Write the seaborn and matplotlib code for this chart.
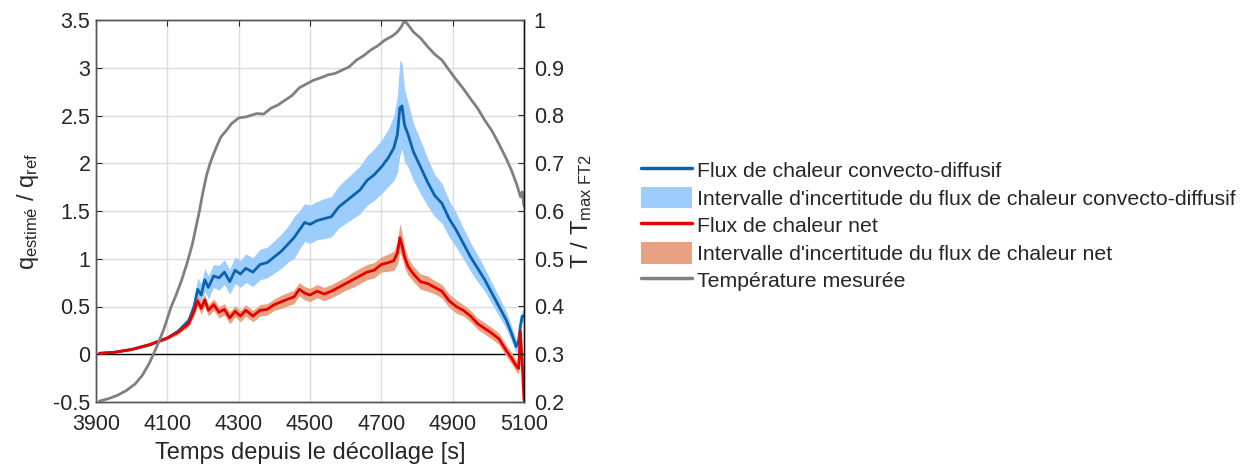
import numpy as np
import pandas as pd
import matplotlib
matplotlib.use("Agg")
import matplotlib.pyplot as plt
import seaborn as sns
from matplotlib.lines import Line2D
from matplotlib.patches import Patch

# ---------------- data ----------------
t_flux = [3910, 3950, 4000, 4050, 4100, 4130, 4160, 4175, 4185, 4195, 4205, 4215, 4230, 4245,
          4260, 4275, 4290, 4305, 4320, 4340, 4360, 4380, 4400, 4420, 4440, 4455, 4470, 4485,
          4500, 4520, 4540, 4560, 4580, 4600, 4620, 4640, 4660, 4680, 4700, 4720, 4735, 4745,
          4752, 4758, 4765, 4775, 4790, 4810, 4830, 4850, 4870, 4890, 4910, 4930, 4950, 4970,
          4990, 5010, 5030, 5050, 5065, 5078, 5085, 5090, 5095, 5100]

q_conv = [0.01, 0.02, 0.05, 0.10, 0.17, 0.24, 0.35, 0.50, 0.68, 0.62, 0.78, 0.70, 0.82, 0.80,
          0.86, 0.76, 0.88, 0.84, 0.90, 0.86, 0.94, 0.96, 1.02, 1.08, 1.16, 1.22, 1.30, 1.38,
          1.36, 1.40, 1.42, 1.44, 1.54, 1.60, 1.66, 1.72, 1.82, 1.88, 1.96, 2.06, 2.16, 2.30,
          2.58, 2.60, 2.40, 2.30, 2.12, 1.96, 1.80, 1.66, 1.58, 1.42, 1.30, 1.16, 1.02, 0.90,
          0.78, 0.64, 0.50, 0.36, 0.22, 0.08, 0.14, 0.30, 0.40, 0.40]

err_conv = [0.005, 0.008, 0.01, 0.015, 0.02, 0.03, 0.05, 0.08, 0.12, 0.12, 0.12, 0.12, 0.12, 0.13,
            0.13, 0.13, 0.14, 0.14, 0.15, 0.15, 0.16, 0.16, 0.17, 0.18, 0.19, 0.22, 0.20, 0.20,
            0.20, 0.20, 0.21, 0.21, 0.22, 0.23, 0.24, 0.25, 0.26, 0.27, 0.28, 0.30, 0.34, 0.40,
            0.50, 0.45, 0.38, 0.34, 0.30, 0.28, 0.25, 0.22, 0.21, 0.19, 0.18, 0.16, 0.15, 0.14,
            0.12, 0.11, 0.10, 0.09, 0.08, 0.07, 0.07, 0.07, 0.06, 0.06]

q_net = [0.01, 0.02, 0.05, 0.10, 0.17, 0.23, 0.32, 0.45, 0.56, 0.48, 0.57, 0.46, 0.52, 0.44,
         0.47, 0.38, 0.45, 0.40, 0.46, 0.40, 0.46, 0.47, 0.52, 0.55, 0.58, 0.60, 0.68, 0.64,
         0.62, 0.66, 0.63, 0.66, 0.70, 0.74, 0.78, 0.82, 0.86, 0.88, 0.94, 0.96, 0.98, 1.06,
         1.22, 1.14, 1.02, 0.92, 0.84, 0.76, 0.74, 0.70, 0.66, 0.56, 0.50, 0.46, 0.40, 0.32,
         0.27, 0.22, 0.16, 0.04, -0.04, -0.12, -0.15, 0.24, -0.10, -0.48]

err_net = [0.005, 0.008, 0.01, 0.012, 0.015, 0.02, 0.03, 0.05, 0.06, 0.06, 0.06, 0.06, 0.06, 0.06,
           0.06, 0.06, 0.06, 0.06, 0.06, 0.06, 0.06, 0.06, 0.06, 0.07, 0.07, 0.07, 0.07, 0.07,
           0.07, 0.07, 0.07, 0.07, 0.07, 0.07, 0.08, 0.08, 0.08, 0.08, 0.08, 0.09, 0.10, 0.12,
           0.15, 0.13, 0.11, 0.09, 0.08, 0.08, 0.08, 0.07, 0.07, 0.07, 0.07, 0.06, 0.06, 0.06,
           0.06, 0.06, 0.06, 0.06, 0.06, 0.06, 0.06, 0.06, 0.06, 0.06]

t_temp = [3910, 3935, 3960, 3985, 4010, 4030, 4050, 4070, 4090, 4110, 4125, 4140, 4155, 4170,
          4180, 4190, 4200, 4210, 4220, 4230, 4240, 4250, 4265, 4280, 4300, 4320, 4350, 4370,
          4390, 4410, 4430, 4450, 4470, 4490, 4510, 4530, 4550, 4570, 4590, 4610, 4630, 4650,
          4670, 4690, 4710, 4730, 4745, 4755, 4765, 4775, 4790, 4810, 4830, 4850, 4870, 4890,
          4910, 4930, 4950, 4970, 4990, 5010, 5030, 5050, 5065, 5080, 5090, 5095, 5100]

T_rel = [0.202, 0.207, 0.214, 0.224, 0.238, 0.256, 0.282, 0.315, 0.352, 0.398, 0.425, 0.455, 0.49, 0.53,
         0.565, 0.60, 0.64, 0.675, 0.70, 0.72, 0.738, 0.755, 0.768, 0.783, 0.795, 0.797, 0.804, 0.803,
         0.815, 0.822, 0.832, 0.842, 0.858, 0.866, 0.874, 0.879, 0.885, 0.888, 0.895, 0.902, 0.916, 0.925,
         0.937, 0.946, 0.958, 0.966, 0.975, 0.985, 0.998, 0.99, 0.975, 0.962, 0.944, 0.928, 0.916, 0.895,
         0.875, 0.856, 0.835, 0.815, 0.79, 0.768, 0.74, 0.71, 0.685, 0.655, 0.63, 0.64, 0.61]

# ---------------- style ----------------
sns.set_style("white")
plt.rcParams['font.family'] = ['Liberation Sans', 'DejaVu Sans']
plt.rcParams['mathtext.fontset'] = 'custom'
plt.rcParams['mathtext.rm'] = 'Liberation Sans'
plt.rcParams['mathtext.it'] = 'Liberation Sans'
plt.rcParams['mathtext.default'] = 'regular'

c_blue = '#0b63ae'
c_lblue = '#9ccdfc'
c_red = '#e60000'
c_salmon = '#e8a282'
c_gray = '#808080'
c_txt = '#262626'

fig = plt.figure(figsize=(12.57, 4.68), dpi=100)
ax = fig.add_axes([96/1257, 1-402/468, (524-96)/1257, (402-20)/468])
ax2 = ax.twinx()

df = pd.DataFrame({'t': t_flux, 'conv': q_conv, 'econv': err_conv, 'net': q_net, 'enet': err_net})
dft = pd.DataFrame({'t': t_temp, 'T': T_rel})

# grid & zero line
ax.set_axisbelow(True)
ax.grid(True, color='#dcdcdc', lw=1)
ax.axhline(0, color='black', lw=1, zorder=1)

ax.fill_between(df['t'], df['conv'] - df['econv'], df['conv'] + df['econv'],
                color=c_lblue, lw=0, zorder=2)
ax.fill_between(df['t'], df['net'] - df['enet'], df['net'] + df['enet'],
                color=c_salmon, lw=0, zorder=3)
sns.lineplot(data=df, x='t', y='conv', ax=ax, color=c_blue, lw=2, zorder=4)
sns.lineplot(data=df, x='t', y='net', ax=ax, color=c_red, lw=2, zorder=5)
sns.lineplot(data=dft, x='t', y='T', ax=ax2, color=c_gray, lw=2)

ax.set_xlim(3900, 5100)
ax.set_ylim(-0.5, 3.5)
ax2.set_ylim(0.2, 1.0)
ax.set_xticks([3900, 4100, 4300, 4500, 4700, 4900, 5100])
ax.set_yticks([-0.5, 0, 0.5, 1, 1.5, 2, 2.5, 3, 3.5])
ax.set_yticklabels(['-0.5', '0', '0.5', '1', '1.5', '2', '2.5', '3', '3.5'])
ax2.set_yticks([0.2, 0.3, 0.4, 0.5, 0.6, 0.7, 0.8, 0.9, 1.0])
ax2.set_yticklabels(['0.2', '0.3', '0.4', '0.5', '0.6', '0.7', '0.8', '0.9', '1'])

for a in (ax, ax2):
    a.tick_params(direction='in', length=4, width=0.8, labelsize=15.5, colors='#262626',
                  labelcolor=c_txt)
    for s in a.spines.values():
        s.set_color('#555555')
        s.set_linewidth(1)
ax2.spines['right'].set_color('#111111')
ax.tick_params(axis='x', top=True, pad=9)
ax.tick_params(axis='y', pad=4)
ax2.tick_params(axis='y', pad=7)
ax2.grid(False)

ax.set_xlabel('Temps depuis le décollage [s]', fontsize=17, color=c_txt, labelpad=5)
ax.set_ylabel(r'q$_{\mathrm{estimé}}$ / q$_{\mathrm{ref}}$', fontsize=17, color=c_txt, labelpad=9)
ax2.set_ylabel(r'T / T$_{\mathrm{max\ FT2}}$', fontsize=17, color=c_txt, labelpad=4)

handles = [Line2D([], [], color=c_blue, lw=2.5),
           Patch(facecolor=c_lblue, edgecolor='none'),
           Line2D([], [], color=c_red, lw=2.5),
           Patch(facecolor=c_salmon, edgecolor='none'),
           Line2D([], [], color=c_gray, lw=2.5)]
labels = ["Flux de chaleur convecto-diffusif",
          "Intervalle d'incertitude du flux de chaleur convecto-diffusif",
          "Flux de chaleur net",
          "Intervalle d'incertitude du flux de chaleur net",
          "Température mesurée"]
leg = fig.legend(handles, labels, loc='upper left', bbox_to_anchor=(641/1257, 1-159/468),
                 frameon=False, fontsize=15.3, handlelength=2.4, handleheight=1.2,
                 handletextpad=0.25, labelspacing=0.26, borderaxespad=0, borderpad=0)
for txt in leg.get_texts():
    txt.set_color(c_txt)

fig.savefig('out.png', dpi=100)
